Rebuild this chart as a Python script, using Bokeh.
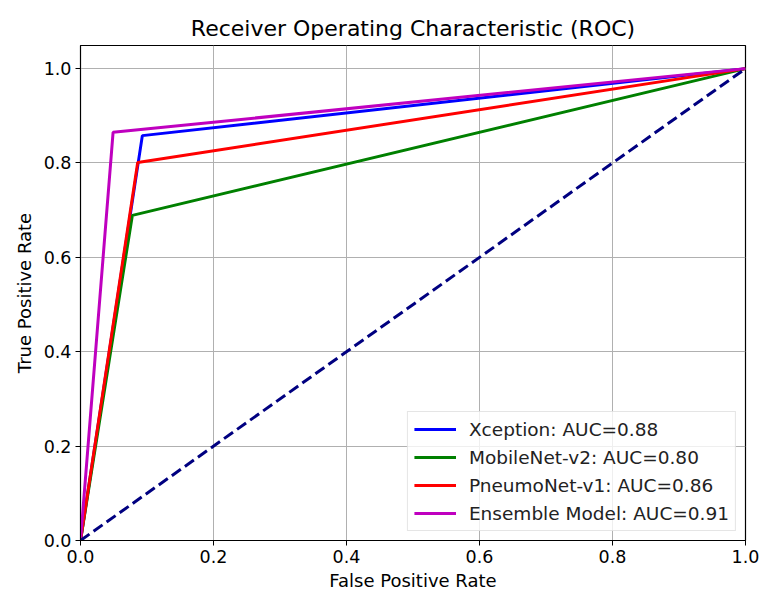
from bokeh.plotting import figure
from bokeh.models import Range1d, FixedTicker, PrintfTickFormatter, Legend, LegendItem
from bokeh.embed import file_html
from bokeh.resources import INLINE

# Data
diag_x = [0.0, 1.0]
diag_y = [0.0, 1.0]

xception_fpr = [0.0, 0.093, 1.0]
xception_tpr = [0.0, 0.858, 1.0]

mobilenet_fpr = [0.0, 0.078, 1.0]
mobilenet_tpr = [0.0, 0.689, 1.0]

pneumonet_fpr = [0.0, 0.086, 1.0]
pneumonet_tpr = [0.0, 0.801, 1.0]

ensemble_fpr = [0.0, 0.049, 1.0]
ensemble_tpr = [0.0, 0.865, 1.0]

labels = ["Xception: AUC=0.88", "MobileNet-v2: AUC=0.80",
          "PneumoNet-v1: AUC=0.86", "Ensemble Model: AUC=0.91"]
ticks = [0.0, 0.2, 0.4, 0.6, 0.8, 1.0]

FONT = "DejaVu Sans"

p = figure(width=761, height=594, output_backend="svg", toolbar_location=None,
           x_range=Range1d(0, 1.0), y_range=Range1d(0, 1.049),
           title="Receiver Operating Characteristic (ROC)",
           min_border_left=80, min_border_right=16, min_border_top=45, min_border_bottom=54)

p.title.align = "center"
p.title.text_font = FONT
p.title.text_font_size = "22px"
p.title.text_font_style = "normal"
p.title.text_color = "#000000"
p.title.standoff = 10

p.outline_line_color = "#000000"
p.outline_line_width = 1.2

for ax in (p.xaxis[0], p.yaxis[0]):
    ax.ticker = FixedTicker(ticks=ticks)
    ax.formatter = PrintfTickFormatter(format="%.1f")
    ax.major_label_text_font = FONT
    ax.major_label_text_font_size = "17.5px"
    ax.major_label_text_color = "#000000"
    ax.axis_label_text_font = FONT
    ax.axis_label_text_font_size = "18px"
    ax.axis_label_text_font_style = "normal"
    ax.axis_label_text_color = "#000000"
    ax.minor_tick_line_color = None
    ax.major_tick_out = 5
    ax.major_tick_in = 0
    ax.major_tick_line_color = "#000000"
    ax.axis_line_color = "#000000"
    ax.major_label_standoff = 4

p.xaxis.axis_label = "False Positive Rate"
p.yaxis.axis_label = "True Positive Rate"
p.xaxis.axis_label_standoff = 4
p.yaxis.axis_label_standoff = 6

p.xgrid.ticker = FixedTicker(ticks=ticks)
p.ygrid.ticker = FixedTicker(ticks=ticks)
p.grid.grid_line_color = "#b0b0b0"
p.grid.grid_line_width = 1

LW = 3
r1 = p.line(xception_fpr, xception_tpr, line_color="#0000ff", line_width=LW)
r2 = p.line(mobilenet_fpr, mobilenet_tpr, line_color="#008000", line_width=LW)
r3 = p.line(pneumonet_fpr, pneumonet_tpr, line_color="#ff0000", line_width=LW)
r4 = p.line(ensemble_fpr, ensemble_tpr, line_color="#bf00bf", line_width=LW)
p.line(diag_x, diag_y, line_color="#000080", line_width=LW, line_dash="11 5")

legend = Legend(items=[LegendItem(label=labels[0], renderers=[r1]),
                       LegendItem(label=labels[1], renderers=[r2]),
                       LegendItem(label=labels[2], renderers=[r3]),
                       LegendItem(label=labels[3], renderers=[r4])],
                location="bottom_right")
legend.label_text_font = FONT
legend.label_text_font_size = "18.5px"
legend.label_text_color = "#222222"
legend.glyph_width = 42
legend.label_height = 22
legend.glyph_height = 22
legend.label_standoff = 13
legend.spacing = 6
legend.padding = 6
legend.margin = 9
legend.border_line_color = "#cccccc"
legend.border_line_width = 1
legend.background_fill_alpha = 0.8
p.add_layout(legend)

open("out.html", "w").write(file_html(p, INLINE))
